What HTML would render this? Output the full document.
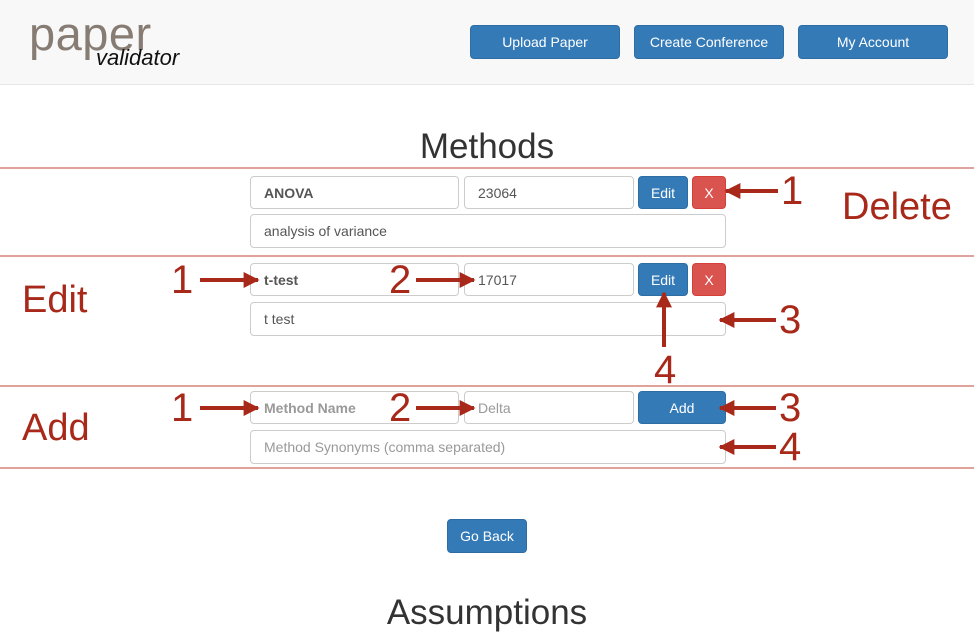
<!DOCTYPE html>
<html><head><meta charset="utf-8"><style>
*{box-sizing:border-box;margin:0;padding:0}
body{width:974px;height:642px;position:relative;overflow:hidden;background:#fff;font-family:"Liberation Sans",Arial,sans-serif;color:#333}
.a{position:absolute}
.hdr{left:0;top:0;width:974px;height:85px;background:#f8f8f8;border-bottom:1px solid #e7e7e7}
.btn{position:absolute;background:#337ab7;border:1px solid #2e6da4;border-radius:4px;color:#fff;font-size:14px;display:flex;align-items:center;justify-content:center}
.red{background:#d9534f;border-color:#d43f3a}
.inp{position:absolute;border:1px solid #ccc;border-radius:4px;font-size:14px;color:#555;padding-left:13px;display:flex;align-items:center;background:#fff}
.hl{position:absolute;left:0;width:974px;height:2px;background:#e0a39b}
.ann{position:absolute;color:#a8291a;font-size:40px;line-height:1}
.t{position:absolute;width:974px;text-align:center;font-size:35px;color:#333}
</style></head><body>
<div class="a hdr"></div>
<div class="a" style="left:29px;top:10px;font-size:47px;color:#7a6f66;line-height:1;-webkit-text-stroke:0;letter-spacing:0.5px;opacity:0.9">paper</div>
<div class="a" style="left:96px;top:47px;font-size:22px;font-style:italic;color:#111;line-height:1">validator</div>
<div class="btn" style="left:470px;top:25px;width:150px;height:34px">Upload Paper</div>
<div class="btn" style="left:634px;top:25px;width:150px;height:34px">Create Conference</div>
<div class="btn" style="left:798px;top:25px;width:150px;height:34px">My Account</div>

<div class="t" style="top:127px">Methods</div>
<div class="hl" style="top:167px"></div>
<div class="hl" style="top:255px"></div>
<div class="hl" style="top:385px"></div>
<div class="hl" style="top:467px"></div>

<div class="inp" style="left:250px;top:176px;width:209px;height:33px;font-weight:bold">ANOVA</div>
<div class="inp" style="left:464px;top:176px;width:170px;height:33px">23064</div>
<div class="btn" style="left:638px;top:176px;width:50px;height:33px">Edit</div>
<div class="btn red" style="left:692px;top:176px;width:34px;height:33px">X</div>
<div class="inp" style="left:250px;top:214px;width:476px;height:34px">analysis of variance</div>

<div class="inp" style="left:250px;top:263px;width:209px;height:33px;font-weight:bold">t-test</div>
<div class="inp" style="left:464px;top:263px;width:170px;height:33px">17017</div>
<div class="btn" style="left:638px;top:263px;width:50px;height:33px">Edit</div>
<div class="btn red" style="left:692px;top:263px;width:34px;height:33px">X</div>
<div class="inp" style="left:250px;top:302px;width:476px;height:34px">t test</div>

<div class="inp" style="left:250px;top:391px;width:209px;height:33px;font-weight:bold;color:#999">Method Name</div>
<div class="inp" style="left:464px;top:391px;width:170px;height:33px;color:#999">Delta</div>
<div class="btn" style="left:638px;top:391px;width:88px;height:33px">Add</div>
<div class="inp" style="left:250px;top:430px;width:476px;height:34px;color:#999">Method Synonyms (comma separated)</div>

<div class="btn" style="left:447px;top:519px;width:80px;height:34px">Go Back</div>
<div class="t" style="top:593px">Assumptions</div>

<div class="ann" style="left:842px;top:188px;font-size:38px">Delete</div>
<div class="ann" style="left:22px;top:281px;font-size:38px">Edit</div>
<div class="ann" style="left:22px;top:409px;font-size:38px">Add</div>

<div class="ann" style="left:781px;top:171px">1</div>
<div class="ann" style="left:171px;top:260px">1</div>
<div class="ann" style="left:389px;top:260px">2</div>
<div class="ann" style="left:779px;top:300px">3</div>
<div class="ann" style="left:654px;top:350px">4</div>
<div class="ann" style="left:171px;top:388px">1</div>
<div class="ann" style="left:389px;top:388px">2</div>
<div class="ann" style="left:779px;top:388px">3</div>
<div class="ann" style="left:779px;top:427px">4</div>

<svg class="a" style="left:0;top:0" width="974" height="642">
<defs><marker id="h" markerWidth="4" markerHeight="4" refX="3.6" refY="2" orient="auto" markerUnits="strokeWidth"><path d="M0,0 L4,2 L0,4 z" fill="#a8291a"/></marker></defs>
<g stroke="#a8291a" stroke-width="4" marker-end="url(#h)">
<line x1="778" y1="191" x2="726" y2="191"/>
<line x1="200" y1="280" x2="258" y2="280"/>
<line x1="416" y1="280" x2="474" y2="280"/>
<line x1="776" y1="320" x2="720" y2="320"/>
<line x1="664" y1="347" x2="664" y2="293"/>
<line x1="200" y1="408" x2="258" y2="408"/>
<line x1="416" y1="408" x2="474" y2="408"/>
<line x1="776" y1="408" x2="720" y2="408"/>
<line x1="776" y1="447" x2="720" y2="447"/>
</g></svg>
</body></html>
